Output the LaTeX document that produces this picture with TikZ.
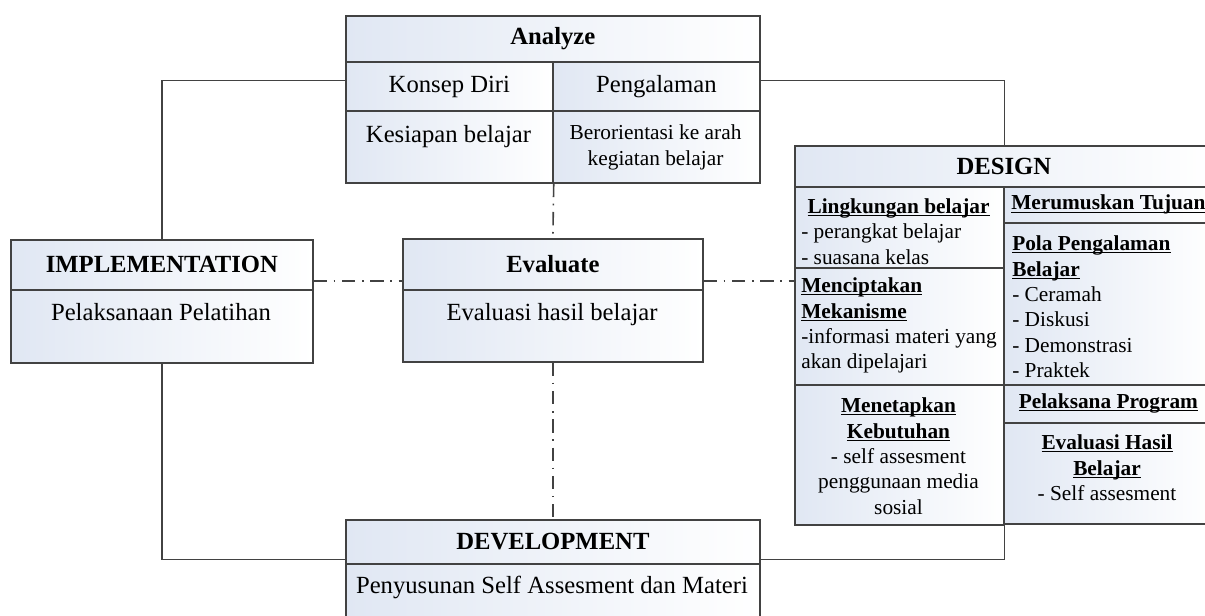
\documentclass[tikz,border=0pt]{standalone}
\usepackage{fontspec}
\setmainfont{Liberation Serif}
\newcommand\ulhead[1]{\setbox0\hbox{\textbf{#1}}\rlap{\rule[-1.9pt]{\wd0}{0.75pt}}\box0}
\definecolor{edgegray}{RGB}{66,66,66}
\definecolor{cellblue}{RGB}{224,231,243}
\tikzset{
  cellbox/.style 2 args={draw=edgegray, line width=1.3pt, left color=cellblue, right color=white,
    anchor=north west, inner sep=0pt, minimum width=#1*0.75pt, minimum height=#2*0.75pt},
  ttl/.style={font=\fontsize{18.5}{19.5}\selectfont\bfseries},
  txt/.style={font=\fontsize{18.5}{19.5}\selectfont, inner sep=0pt},
  dsgtxt/.style={font=\fontsize{16}{19.1}\selectfont, inner sep=0pt},
  conn/.style={draw=edgegray, line width=1pt},
  dashdotline/.style={conn, line width=1.2pt, dash pattern=on 10pt off 5pt on 1.2pt off 5pt}
}
\begin{document}
\begin{tikzpicture}[x=0.75pt,y=0.75pt,yscale=-1,xscale=1]
\useasboundingbox (0,0) rectangle (1205,616);

%Shape: Analyze
\node[cellbox={414}{46}, ttl] (anaT) at (345,15) {Analyze};
\node[cellbox={207}{49}, txt, text height=12.6pt, text depth=4pt] (anaA) at (345,61) {Konsep Diri};
\node[cellbox={207}{49}, txt, text height=12.6pt, text depth=4pt] (anaB) at (552,61) {Pengalaman};
\node[cellbox={207}{72}] (anaC) at (345,110) {};
\node[cellbox={207}{72}] (anaD) at (552,110) {};
%Shape: Implementation
\node[cellbox={302}{50}, ttl] (impT) at (10,239) {IMPLEMENTATION};
\node[cellbox={302}{73}] (impB) at (10,289) {};
%Shape: Evaluate
\node[cellbox={300}{51}, ttl] (evaT) at (402,238) {Evaluate};
\node[cellbox={300}{72}] (evaB) at (402,289) {};
%Shape: Development
\node[cellbox={414}{44}, ttl] (devT) at (345,519) {DEVELOPMENT};
\node[cellbox={414}{72}] (devB) at (345,563) {};
%Shape: Design
\node[cellbox={418}{41}, ttl] (dsgT) at (794,145) {DESIGN};
\node[cellbox={209}{81}] (dsgA) at (794,186) {};
\node[cellbox={209}{117}] (dsgB) at (794,267) {};
\node[cellbox={209}{140}] (dsgC) at (794,384) {};
\node[cellbox={209}{36}, dsgtxt] (dsgD) at (1003,186) {\ulhead{Merumuskan Tujuan}};
\node[cellbox={209}{162}] (dsgE) at (1003,222) {};
\node[cellbox={209}{38}, dsgtxt] (dsgF) at (1003,384) {\ulhead{Pelaksana Program}};
\node[cellbox={209}{101}] (dsgG) at (1003,422) {};

% Text Node
\node[txt, anchor=north] (kesTx) at (448.5,125) {Kesiapan belajar};
% Text Node
\node[dsgtxt, anchor=north, align=center] (oriTx) at (655.5,124.5) {Berorientasi ke arah\\kegiatan belajar};
% Text Node
\node[txt, anchor=north] (impTx) at (161,303) {Pelaksanaan Pelatihan};
% Text Node
\node[txt, anchor=north] (evaTx) at (552,303) {Evaluasi hasil belajar};
% Text Node
\node[txt, anchor=north] (devTx) at (552,576) {Penyusunan Self Assesment dan Materi};
% Text Node
\node[dsgtxt, anchor=north] (lingHd) at (898.5,198.5) {\ulhead{Lingkungan belajar}};
\node[dsgtxt, anchor=north west, align=left] (lingTx) at (801,223.5) {- perangkat belajar\\- suasana kelas};
% Text Node
\node[dsgtxt, anchor=north west, align=left] (mekTx) at (801,277.5)
  {\ulhead{Menciptakan}\\\ulhead{Mekanisme}\\-informasi materi yang\\akan dipelajari};
% Text Node
\node[dsgtxt, anchor=north, align=center] (kebTx) at (898.5,397.5)
  {\ulhead{Menetapkan}\\\ulhead{Kebutuhan}\\- self assesment\\penggunaan media\\sosial};
% Text Node
\node[dsgtxt, anchor=north west, align=left] (polaTx) at (1012,235.5)
  {\ulhead{Pola Pengalaman}\\\ulhead{Belajar}\\- Ceramah\\- Diskusi\\- Demonstrasi\\- Praktek};
% Text Node
\node[dsgtxt, anchor=north, align=center] (hasTx) at (1107,434.5)
  {\ulhead{Evaluasi Hasil}\\\ulhead{Belajar}\\- Self assesment};

%Straight Lines
\draw[conn] ([yshift=-4.5pt]anaA.west) -| (impT.north);
\draw[conn] ([yshift=-4.5pt]anaB.east) -| (dsgT.north -| dsgA.east);
\draw[conn] (impB.south) |- ([yshift=-3.75pt]devT.south west);
\draw[conn] ([yshift=-3.75pt]devT.south east) -| (dsgC.south east);
%Dash Dot Lines
\draw[dashdotline] ([yshift=-7.5pt]impT.south east) -- ([yshift=-7.5pt]evaT.south west);
\draw[dashdotline] ([yshift=-7.5pt]evaT.south east) -- ([yshift=-7.5pt]evaT.south east -| dsgB.west);
\draw[dashdotline] (anaC.south east) -- (evaT.north);
\draw[dashdotline] (evaB.south) -- (devT.north);

\end{tikzpicture}
\end{document}
